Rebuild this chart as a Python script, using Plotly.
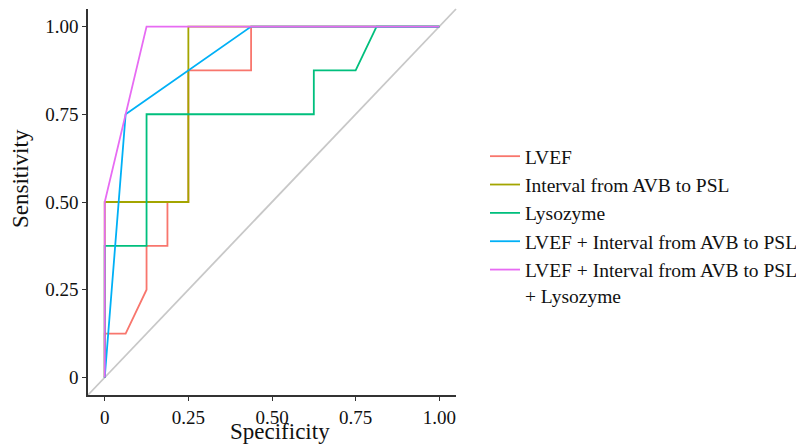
import plotly.graph_objects as go

names = ["LVEF", "Interval from AVB to PSL", "Lysozyme",
         "LVEF + Interval from AVB to PSL", "LVEF + Interval from AVB to PSL<br>+ Lysozyme"]
colors = ["#F8766D", "#A3A500", "#00BF7D", "#00B0F6", "#E76BF3"]

lvef_x = [0, 0, 0.0625, 0.125, 0.125, 0.1875, 0.1875, 0.25, 0.25, 0.4375, 0.4375, 1]
lvef_y = [0, 0.125, 0.125, 0.25, 0.375, 0.375, 0.5, 0.5, 0.875, 0.875, 1, 1]
avb_x = [0, 0, 0.25, 0.25, 1]
avb_y = [0, 0.5, 0.5, 1, 1]
lyso_x = [0, 0, 0.125, 0.125, 0.625, 0.625, 0.75, 0.8125, 1]
lyso_y = [0, 0.375, 0.375, 0.75, 0.75, 0.875, 0.875, 1, 1]
comb2_x = [0, 0.0625, 0.4375, 1]
comb2_y = [0, 0.75, 1, 1]
comb3_x = [0, 0, 0.125, 1]
comb3_y = [0, 0.5, 1, 1]

tick_vals = [0, 0.25, 0.5, 0.75, 1.0]
tick_text = ["0", "0.25", "0.50", "0.75", "1.00"]

series = [(lvef_x, lvef_y), (avb_x, avb_y), (lyso_x, lyso_y), (comb2_x, comb2_y), (comb3_x, comb3_y)]

fig = go.Figure()
for i, ((xs, ys), n, c) in enumerate(zip(series, names, colors)):
    fig.add_trace(go.Scatter(x=xs, y=ys, mode="lines", name=n, legendgroup=f"g{i}",
                             line=dict(color=c, width=1.8)))

fig.add_shape(type="line", xref="x domain", yref="y domain", x0=0, y0=0, x1=1, y1=1,
              line=dict(color="#c8c8c8", width=1.8), layer="below")

font = "Liberation Serif, Times New Roman, serif"
axis_common = dict(range=[-0.05, 1.05], tickvals=tick_vals, ticktext=tick_text,
                   showgrid=False, zeroline=False, showline=True, linecolor="#333333",
                   linewidth=1.5, ticks="outside", ticklen=4, tickcolor="#333333",
                   automargin=False,
                   tickfont=dict(family=font, size=19, color="#111111"))
fig.update_xaxes(**axis_common)
fig.update_yaxes(**axis_common)

# page body has an 8px margin, so the figure is sized to fit the window
OFF = 8
W, H = 804 - OFF, 446 - OFF
L, T = 88 - OFF, 9 - OFF
R = W - (456 - OFF)
B = H - (395 - OFF)
pw, ph = W - L - R, H - T - B

def px(x):
    return (x - OFF - L) / pw

def py(y):
    return ((H - B) - (y - OFF)) / ph

fig.add_annotation(text="Specificity", xref="paper", yref="paper",
                   x=px(280), y=py(432), xanchor="center", yanchor="middle",
                   showarrow=False, font=dict(family=font, size=23, color="#111111"))
fig.add_annotation(text="Sensitivity", xref="paper", yref="paper", textangle=-90,
                   x=px(20), y=py(179), xanchor="center", yanchor="middle",
                   showarrow=False, font=dict(family=font, size=23, color="#111111"))

fig.update_layout(
    width=W, height=H,
    margin=dict(l=L, r=R, t=T, b=B),
    paper_bgcolor="white", plot_bgcolor="white",
    font=dict(family=font, size=19.5, color="#111111"),
    legend=dict(xref="container", yref="container",
                x=(485 - OFF) / W, xanchor="left", y=1 - (137 - OFF) / H, yanchor="top",
                font=dict(family=font, size=19.5, color="#111111"),
                tracegroupgap=0, itemwidth=30, valign="top"),
)

fig.write_html("out.html")
